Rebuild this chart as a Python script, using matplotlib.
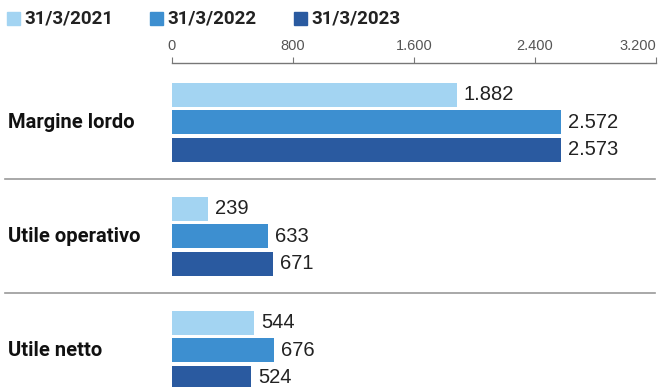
import matplotlib
matplotlib.use("Agg")
import matplotlib.pyplot as plt
import matplotlib.transforms as mtransforms
from matplotlib.patches import Rectangle

categories = ["Margine lordo", "Utile operativo", "Utile netto"]
series_names = ["31/3/2021", "31/3/2022", "31/3/2023"]
v2021 = [1882, 239, 544]
v2022 = [2572, 633, 676]
v2023 = [2573, 671, 524]
ticks = [0, 800, 1600, 2400, 3200]
tick_labels = ["0", "800", "1.600", "2.400", "3.200"]
colors = ["#a3d4f2", "#3d8fd0", "#2a5aa0"]

W, H = 659, 387
fig = plt.figure(figsize=(W / 100, H / 100), dpi=100)
fig.patch.set_facecolor("white")

# axes in pixel layout
x0, x1 = 172, 656
y_top, y_bot = 63, 387
ax = fig.add_axes([x0 / W, 1 - y_bot / H, (x1 - x0) / W, (y_bot - y_top) / H])
gp = 114.0  # px per group
top = -(122 - y_top) / gp
ax.set_ylim(top + (y_bot - y_top) / gp, top)
ax.set_xlim(0, 3200)

bh = 24 / gp
off = 27.5 / gp
fmt = lambda v: f"{v:,}".replace(",", ".")
for s, (vals, c) in enumerate(zip([v2021, v2022, v2023], colors)):
    ys = [i + (s - 1) * off for i in range(len(categories))]
    ax.barh(ys, vals, height=bh, color=c, edgecolor="none")
    for y, v in zip(ys, vals):
        ax.annotate(fmt(v), (v, y), xytext=(5, 0), textcoords="offset points",
                    va="center", ha="left", fontsize=14.5, color="#222222",
                    family="Liberation Sans")

# category labels
trans = mtransforms.blended_transform_factory(fig.transFigure, ax.transData)
for i, cat in enumerate(categories):
    ax.text(8 / W, i, cat, transform=trans, ha="left", va="center",
            fontsize=14.5, fontweight="bold", family="Roboto", color="#111111")
for i in range(len(categories) - 1):
    ax.plot([5 / W, 655 / W], [i + 0.5, i + 0.5], transform=trans,
            color="#999999", lw=1.2, clip_on=False)

# top axis
for sp in ["right", "bottom", "left"]:
    ax.spines[sp].set_visible(False)
ax.spines["top"].set_color("#777777")
ax.spines["top"].set_linewidth(1)
ax.xaxis.tick_top()
ax.set_xticks(ticks)
ax.set_xticklabels(tick_labels, fontsize=10.5, color="#555555",
                   family="Liberation Sans")
ax.get_xticklabels()[-1].set_horizontalalignment("right")
ax.get_xticklabels()[-1].set_x(3200)
ax.tick_params(axis="x", direction="out", length=4, color="#777777", pad=3)
ax.set_yticks([])

# legend
leg_x = [7, 150, 294]
for lx, name, c in zip(leg_x, series_names, colors):
    fig.patches.append(Rectangle((lx / W, 1 - 25 / H), 13 / W, 13 / H,
                                 transform=fig.transFigure, color=c))
    fig.text((lx + 17) / W, 1 - 18.5 / H, name, fontsize=13.5, fontweight="bold",
             family="Roboto", color="#222222", va="center", ha="left")

fig.savefig("out.png", dpi=100)
